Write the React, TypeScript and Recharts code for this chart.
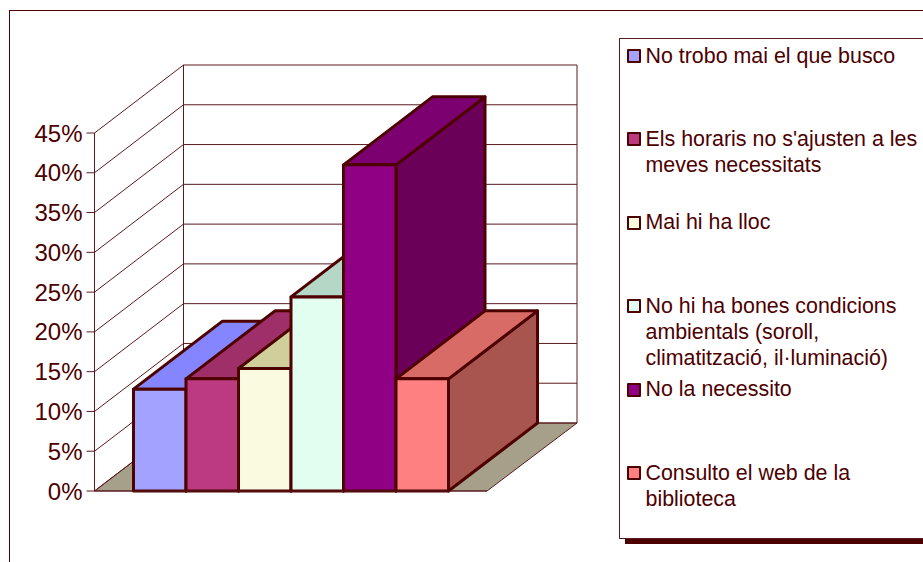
import React from "react";
import { BarChart, Bar, XAxis, YAxis, CartesianGrid, Legend } from "recharts";

const seriesNames = [
  "No trobo mai el que busco",
  "Els horaris no s'ajusten a les meves necessitats",
  "Mai hi ha lloc",
  "No hi ha bones condicions ambientals (soroll, climatització, il·luminació)",
  "No la necessito",
  "Consulto el web de la biblioteca",
];
const seriesValues = [0.128, 0.141, 0.154, 0.244, 0.41, 0.141];
const yTicks = [0, 0.05, 0.1, 0.15, 0.2, 0.25, 0.3, 0.35, 0.4, 0.45];
const frontColors = ["#A3A3FF", "#BC3A80", "#FAFAE0", "#E2FEF0", "#900085", "#FF8080"];
const topColors = ["#8585FF", "#9E2F68", "#D0CF9C", "#B5D8C6", "#7D0070", "#D86B66"];
const sideColors = ["#6F6FC0", "#7C2558", "#A8A880", "#94B0A0", "#6B0058", "#A8554F"];

const row: Record<string, string | number> = { name: "" };
seriesNames.forEach((n, i) => (row[n] = seriesValues[i]));
const data = [row];

const INK = "#4D0000";
const LINE = "#5A1A1F";
const DX = 89;
const DY = -68;
const PLOT_TOP = 133;
const PLOT_H = 358;
const PLOT_LEFT = 94.5;
const PLOT_W = 392.5;
const LEGEND_W = 320;

const Box3D = (colorIndex: number) => (props: any) => {
  const { x, y, width: w, height: h } = props;
  const face = { stroke: INK, strokeWidth: 3, strokeLinejoin: "round" as const };
  return (
    <g>
      <polygon
        points={`${x + w},${y} ${x + w + DX},${y + DY} ${x + w + DX},${y + h + DY} ${x + w},${y + h}`}
        fill={sideColors[colorIndex]}
        {...face}
      />
      <polygon
        points={`${x},${y} ${x + DX},${y + DY} ${x + w + DX},${y + DY} ${x + w},${y}`}
        fill={topColors[colorIndex]}
        {...face}
      />
      <rect x={x} y={y} width={w} height={h} fill={frontColors[colorIndex]} {...face} />
    </g>
  );
};

const wallLine = (props: any) => {
  const { x1, x2, y1, index } = props;
  const isFloor = y1 >= PLOT_TOP + PLOT_H - 0.5;
  const isTop = y1 <= PLOT_TOP + 0.5;
  return (
    <g key={`wall-${index}`}>
      {isFloor && (
        <polygon
          points={`${x1},${y1} ${x2},${y1} ${x2 + DX + 1},${y1 + DY} ${x1 + DX},${y1 + DY}`}
          fill="#A6A08A"
          stroke={LINE}
          strokeWidth={1}
        />
      )}
      {isTop && (
        <>
          <line x1={x1 + DX} y1={y1 + DY} x2={x1 + DX} y2={PLOT_TOP + PLOT_H + DY} stroke={LINE} strokeWidth={1} />
          <line x1={x2 + DX + 1} y1={y1 + DY} x2={x2 + DX + 1} y2={PLOT_TOP + PLOT_H + DY} stroke={LINE} strokeWidth={1} />
        </>
      )}
      <line x1={x1} y1={y1} x2={x1 + DX} y2={y1 + DY} stroke={LINE} strokeWidth={1} />
      <line x1={x1 + DX} y1={y1 + DY} x2={x2 + DX + 1} y2={y1 + DY} stroke={LINE} strokeWidth={1} />
    </g>
  );
};

const LegendList = () => (
  <div style={{ position: "relative", width: 304, height: 499 }}>
    {seriesNames.map((name, i) => (
      <div key={name} style={{ position: "absolute", left: 0, top: 3.5 + i * 83.4, width: 300, height: 80 }}>
        <span
          style={{
            position: "absolute",
            left: 6.5,
            top: 6.5,
            width: 10,
            height: 10,
            background: frontColors[i],
            border: `2.5px solid ${INK}`,
            borderRadius: 1,
          }}
        />
        <span
          style={{
            position: "absolute",
            left: 25.5,
            top: 0,
            width: 278,
            fontSize: 21.4,
            lineHeight: "26px",
            color: INK,
          }}
        >
          {name}
        </span>
      </div>
    ))}
  </div>
);

export default function App() {
  return (
    <div
      style={{
        position: "absolute",
        left: 0,
        top: 0,
        width: 923,
        height: 562,
        overflow: "hidden",
        background: "#fff",
        fontFamily: "'Liberation Sans', Arial, sans-serif",
      }}
    >
      <div
        style={{
          position: "absolute",
          left: 9,
          top: 10,
          width: 1000,
          height: 700,
          borderLeft: `1px solid ${INK}`,
          borderTop: `1px solid ${INK}`,
        }}
      />
      <BarChart
        width={923}
        height={562}
        data={data}
        margin={{ top: PLOT_TOP, right: 923 - PLOT_LEFT - PLOT_W - LEGEND_W, bottom: 0, left: 0 }}
        barSize={52.5}
        barGap={0}
        style={{ position: "absolute", left: 0, top: 0 }}
      >
        <CartesianGrid vertical={false} horizontal={wallLine as any} stroke={LINE} />
        <XAxis
          dataKey="name"
          height={562 - PLOT_TOP - PLOT_H}
          tick={false}
          tickLine={false}
          axisLine={{ stroke: LINE, strokeWidth: 1 }}
        />
        <YAxis
          width={PLOT_LEFT}
          domain={[0, 0.45]}
          ticks={yTicks}
          interval={0}
          tickFormatter={(v: number) => `${Math.round(v * 100)}%`}
          tick={{ fill: INK, fontSize: 24 }}
          tickSize={8}
          tickMargin={4}
          tickLine={{ stroke: LINE, strokeWidth: 1 }}
          axisLine={{ stroke: LINE, strokeWidth: 1 }}
        />
        <Legend
          layout="vertical"
          align="right"
          verticalAlign="top"
          content={<LegendList />}
          wrapperStyle={{
            position: "absolute",
            left: 619,
            top: 38,
            right: "auto",
            bottom: "auto",
            width: LEGEND_W,
            height: 501,
            boxSizing: "border-box",
            border: `1px solid ${LINE}`,
            background: "#fff",
            boxShadow: `6px 5px 0 ${INK}`,
          }}
        />
        {seriesNames.map((name, i) => (
          <Bar key={name} dataKey={name} isAnimationActive={false} shape={Box3D(i)} fill={frontColors[i]} />
        ))}
      </BarChart>
    </div>
  );
}
